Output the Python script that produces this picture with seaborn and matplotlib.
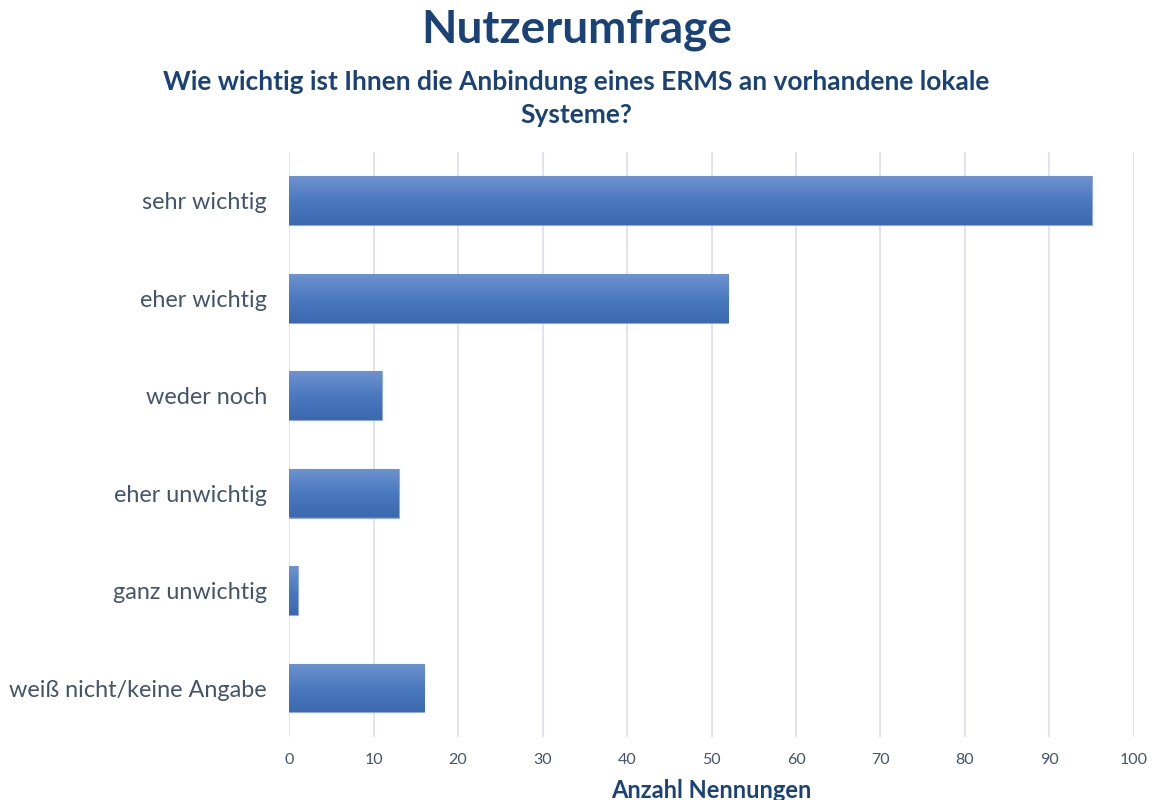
import matplotlib
matplotlib.use("Agg")
import matplotlib.pyplot as plt
import seaborn as sns
import numpy as np
import pandas as pd
from matplotlib.colors import LinearSegmentedColormap

categories = ["sehr wichtig", "eher wichtig", "weder noch", "eher unwichtig",
              "ganz unwichtig", "weiß nicht/keine Angabe"]
values = [95, 52, 11, 13, 1, 16]
xticks = [0, 10, 20, 30, 40, 50, 60, 70, 80, 90, 100]

sns.set_theme(style="white")
plt.rcParams['font.family'] = ['Lato', 'DejaVu Sans']

df = pd.DataFrame({"Kategorie": categories, "Anzahl": values})

fig = plt.figure(figsize=(11.53, 8.0), dpi=100)
ax = fig.add_axes([0.2507, 0.079, 0.7328, 0.731])

sns.barplot(data=df, y="Kategorie", x="Anzahl", orient="h", ax=ax,
            color="#4A78BE", width=0.5, zorder=3)

# gradient overlay on each bar
cmap = LinearSegmentedColormap.from_list("g", ["#6E93CF", "#4B79C0", "#3B68AE"])
grad = np.linspace(0, 1, 256).reshape(-1, 1)
for p in ax.patches:
    x0, y0 = p.get_x(), p.get_y()
    w, h = p.get_width(), p.get_height()
    im = ax.imshow(grad, cmap=cmap, aspect="auto",
                   extent=[x0, x0 + w, y0 + h, y0], zorder=3.5,
                   interpolation="bicubic")
    im.set_clip_path(p)
    p.set_edgecolor("#8FAADC")
    p.set_linewidth(0.8)

ax.set_xlim(0, 100)
ax.set_ylim(5.5, -0.5)
ax.set_xticks(xticks)
ax.set_xticklabels([str(t) for t in xticks])
ax.xaxis.grid(True, color="#DCDDF0", linewidth=1.2, zorder=0)
ax.yaxis.grid(False)
for s in ax.spines.values():
    s.set_visible(False)
ax.tick_params(axis="x", length=0, labelsize=11.5, labelcolor="#44546A", pad=12)
ax.tick_params(axis="y", length=0, labelsize=16.8, labelcolor="#44546A", pad=16)
ax.set_ylabel("")
ax.set_xlabel("Anzahl Nennungen", fontsize=17, fontweight="bold", color="#1A4277", labelpad=8)

fig.text(0.5, 0.962, "Nutzerumfrage", ha="center", va="center",
         fontsize=33, fontweight="bold", color="#1A4277")
fig.text(0.5, 0.877, "Wie wichtig ist Ihnen die Anbindung eines ERMS an vorhandene lokale\nSysteme?",
         ha="center", va="center", fontsize=19, fontweight="bold", color="#1A4277",
         linespacing=1.45)

fig.savefig("out.png", dpi=100, facecolor="white")
